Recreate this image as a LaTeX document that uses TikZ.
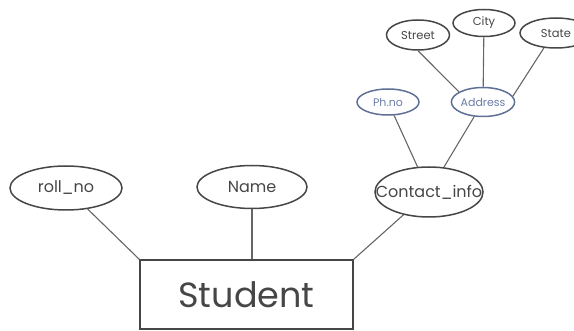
\documentclass[tikz,border=0pt]{standalone}
\usepackage{fontspec}
\setmainfont{Poppins}
\usetikzlibrary{shapes.geometric}
\definecolor{inkgray}{HTML}{464646}
\definecolor{linegray}{HTML}{666666}
\definecolor{slate}{HTML}{5F6F96}
\definecolor{slatetext}{HTML}{6A7BA6}
\tikzset{
  attr/.style={ellipse, draw=inkgray, line width=1.5pt, inner sep=0pt,
    text=inkgray, font=\fontsize{16}{18}\selectfont},
  subattr/.style={attr, font=\fontsize{11.5}{13}\selectfont},
  compattr/.style={attr, draw=slate, text=slatetext, font=\fontsize{11}{13}\selectfont},
  entity/.style={rectangle, draw=inkgray, line width=1.4pt, inner sep=0pt,
    text=inkgray, font=\fontsize{35}{40}\selectfont},
  link/.style={draw=linegray, line width=1.1pt}
}
\begin{document}
\begin{tikzpicture}[x=1pt, y=-1pt]
  \useasboundingbox (0,0) rectangle (574,331);

  % entity
  \node[entity, minimum width=213pt, minimum height=69pt] (student) at (246.5,294.5) {Student};

  % attributes of Student
  \node[attr, minimum width=112pt, minimum height=44pt] (roll) at (66,188) {roll\_no};
  \node[attr, minimum width=110pt, minimum height=43pt] (name) at (252,187) {Name};
  % the long label fills its ellipse nearly edge to edge
  \node[attr, inner xsep=-15pt, minimum width=108pt, minimum height=50pt] (contact) at (429,192) {Contact\_info};

  % parts of Contact_info
  \node[compattr, minimum width=62pt, minimum height=26pt] (phno) at (388,102) {Ph.no};
  \node[compattr, minimum width=63pt, minimum height=29pt] (address) at (483,102) {Address};

  % parts of Address
  \node[subattr, minimum width=63pt, minimum height=30pt] (street) at (418,35) {Street};
  \node[subattr, minimum width=62pt, minimum height=27pt] (city) at (484,23) {City};
  \node[subattr, minimum width=72pt, minimum height=30pt] (state) at (556,33) {State};

  % connectors
  \draw[link] (roll) -- (student.north west);
  \draw[link] (name) -- (name |- student.north);
  \draw[link] (contact) -- (student.north east);
  \draw[link] (phno) -- (contact);
  \draw[link] (address) -- (contact);
  \draw[link] (street.south) -- (address.157);
  \draw[link] (city) -- (address);
  \draw[link] (state.231) -- (address.11);
\end{tikzpicture}
\end{document}
